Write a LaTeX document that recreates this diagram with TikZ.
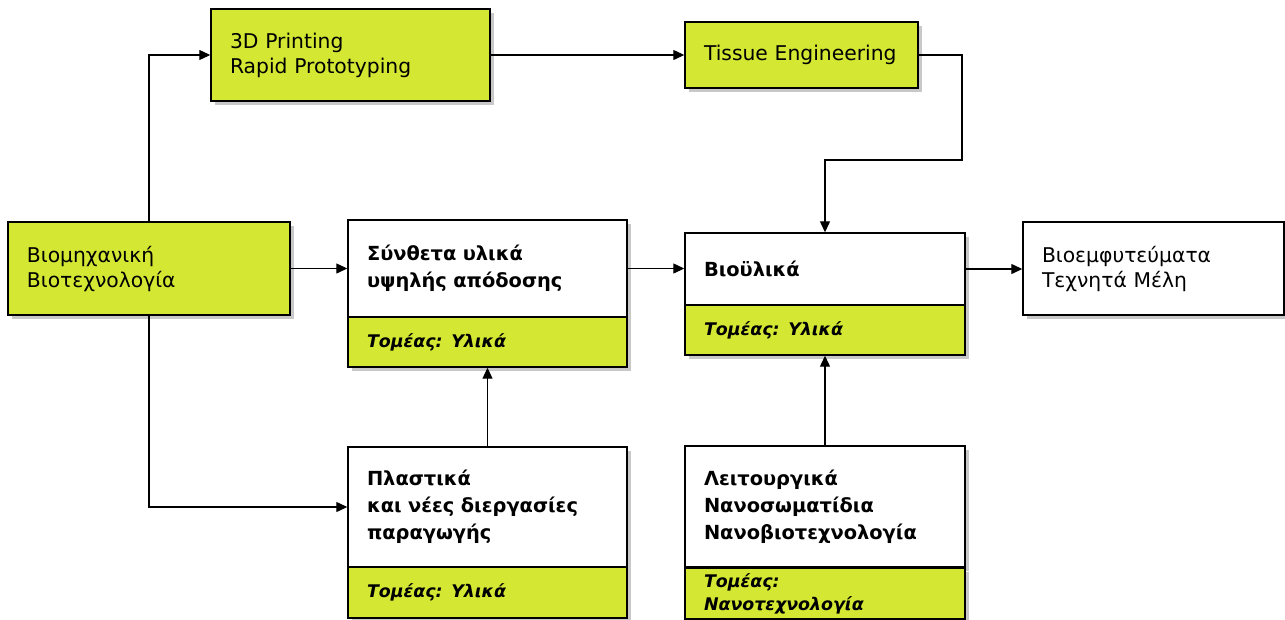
\documentclass[tikz,border=0pt]{standalone}
\usepackage{fontspec}
\setmainfont{DejaVu Sans}
\usetikzlibrary{arrows.meta,shadows}
\definecolor{lime}{RGB}{211,231,51}
\definecolor{shade}{RGB}{200,200,200}
\begin{document}
\begin{tikzpicture}[x=1pt,y=-1pt,
  box/.style={draw=black, line width=1.4pt, rectangle, inner xsep=19pt, inner ysep=0pt,
    align=left, font=\fontsize{20.3}{25}\selectfont,
    drop shadow={shadow xshift=4pt, shadow yshift=-4pt, fill=shade, opacity=1}},
  greenbox/.style={box, fill=lime},
  whitebox/.style={box, fill=white},
  headbox/.style={whitebox, font=\fontsize{19.4}{27}\selectfont\bfseries},
  tagbox/.style={greenbox, font=\fontsize{17.4}{23}\selectfont\bfseries\itshape},
  link/.style={line width=1.2pt, -{Triangle[length=11pt,width=10pt]}}
]
\useasboundingbox (0,0) rectangle (1285,619);

% top row
\node[greenbox, minimum width=279pt, minimum height=92pt, text width=241pt] (print3d) at (350.5,55) {3D Printing\\Rapid Prototyping};
\node[greenbox, minimum width=233pt, minimum height=66pt, text width=195pt] (tissue) at (801.5,55) {Tissue Engineering};

% middle row
\node[greenbox, minimum width=282pt, minimum height=93pt, text width=244pt] (bio) at (149,268.5) {Βιομηχανική\\Βιοτεχνολογία};
\node[headbox, minimum width=279pt, minimum height=97pt, text width=241pt] (syn) at (487.5,268.5) {Σύνθετα υλικά\\υψηλής απόδοσης};
\node[tagbox, minimum width=279pt, minimum height=50pt, text width=241pt] (synT) at (487.5,342) {Τομέας: Υλικά};
\node[headbox, minimum width=280pt, minimum height=72pt, text width=242pt] (biou) at (825,269) {Βιοϋλικά};
\node[tagbox, minimum width=280pt, minimum height=50pt, text width=242pt] (biouT) at (825,330) {Τομέας: Υλικά};
\node[whitebox, minimum width=261pt, minimum height=93pt, text width=223pt] (impl) at (1153.5,268.5) {Βιοεμφυτεύματα\\Τεχνητά Μέλη};

% bottom row
\node[headbox, minimum width=279pt, minimum height=120pt, text width=241pt] (plast) at (487.5,507) {Πλαστικά\\και νέες διεργασίες\\παραγωγής};
\node[tagbox, minimum width=279pt, minimum height=51pt, text width=241pt] (plastT) at (487.5,592.5) {Τομέας: Υλικά};
\node[headbox, minimum width=280pt, minimum height=121pt, text width=242pt] (leit) at (825,506.5) {Λειτουργικά\\Νανοσωματίδια\\Νανοβιοτεχνολογία};
\node[tagbox, minimum width=280pt, minimum height=51pt, text width=242pt] (leitT) at (825,593.5) {Τομέας:\\Νανοτεχνολογία};

% connectors
\coordinate (tbend) at (962,160);
\draw[link] (bio.north) |- (print3d.west);
\draw[link] (print3d.east) -- (print3d.east -| tissue.west);
\draw[link] (tissue.east) -| (tbend) -| (biou.north);
\draw[link] (bio.east) -- (syn.west);
\draw[link] (syn.east) -- (syn.east -| biou.west);
\draw[link] (biou.east) -- (biou.east -| impl.west);
\draw[link] (bio.south) |- (plast.west);
\draw[link] (plast.north) -- (synT.south);
\draw[link] (leit.north) -- (biouT.south);
\end{tikzpicture}
\end{document}
